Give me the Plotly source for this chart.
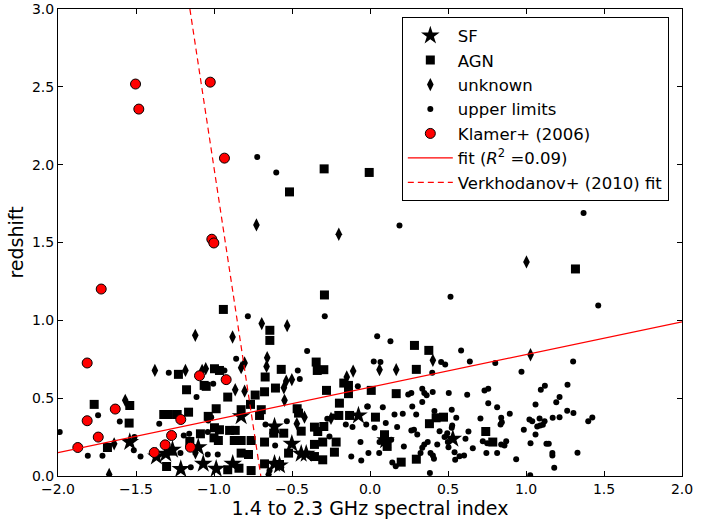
import plotly.graph_objects as go

# ---------------- data ----------------
sf_x = [-1.54, -1.369, -1.309, -1.266, -1.101, -1.213, -1.069, -0.826, -0.612, -0.501,
        -0.441, -0.88, -0.986, -0.074, 0.531, -0.58, -0.612, -0.409, 0.10]
sf_y = [0.218, 0.125, 0.143, 0.168, 0.185, 0.044, 0.078, 0.383, 0.318, 0.207,
        0.143, 0.078, 0.046, 0.389, 0.239, 0.068, 0.078, 0.143, 0.23]

agn_x = [-0.294, -0.005, -0.516, -0.292, -0.94, 1.317,
         -1.228, -1.063, -1.176, -1.54, -1.768, -1.544, -1.322, -1.292, -1.236, -1.163,
         -1.037, -1.683, -1.279, -1.155, -1.087, -1.304,
         -0.642, -0.642, -0.345, -0.997, -0.965, -0.569, -0.338, -0.296, -1.05, -0.672,
         -0.606, -0.676, -0.736, -0.912, -0.279, -0.168, -0.138, -0.138, -0.196, -0.766,
         -0.697, -0.826, -0.986, -0.467, -0.458, -0.708, -0.2, -0.131, -0.356, -0.296,
         -0.997, -0.965, -0.9, -0.864, -0.617, -0.553, -0.441, -0.335, -0.972, -0.87,
         -0.826, -0.762, -0.676, -0.356, -0.303, -0.217, -0.228, -0.522, -0.826, -0.779,
         -0.912, -0.762, -0.676, -0.58, -0.356, -0.303, -0.84, -1.0,
         0.285, 0.377, 0.297, 0.008, 0.168, 0.035, 0.424, 0.471, 0.381, 0.742, 0.787,
         0.093, 0.11, 0.297, 0.2]
agn_y = [1.973, 1.95, 1.825, 1.163, 1.07, 1.33,
         0.653, 0.582, 0.554, 0.453, 0.46, 0.34, 0.395, 0.395, 0.395, 0.41,
         0.383, 0.183, 0.16, 0.222, 0.271, 0.061,
         0.936, 0.871, 0.732, 0.689, 0.678, 0.685, 0.678, 0.683, 0.576, 0.636,
         0.565, 0.541, 0.52, 0.507, 0.55, 0.597, 0.582, 0.529, 0.468, 0.46,
         0.426, 0.426, 0.432, 0.432, 0.404, 0.389, 0.389, 0.389, 0.314, 0.318,
         0.31, 0.297, 0.293, 0.293, 0.275, 0.275, 0.288, 0.286, 0.228, 0.228,
         0.228, 0.228, 0.218, 0.203, 0.218, 0.218, 0.153, 0.147, 0.147, 0.138,
         0.04, 0.035, 0.078, 0.074, 0.125, 0.104, 0.05, 0.245,
         0.839, 0.807, 0.685, 0.55, 0.529, 0.378, 0.374, 0.378, 0.336, 0.286, 0.218,
         0.265, 0.19, 0.108, 0.089]

unk_x = [-0.728, -0.2, 1.003,
         -1.12, -1.379, -1.183, -1.076, -1.053, -1.569, -1.64, -1.119, -1.672,
         -0.694, -0.531, -0.881, -0.804, -0.659, -0.826, -0.663, -0.108, -0.537, -0.501,
         -0.552, -0.864, -0.804, -0.149, -0.548, -0.42, -0.469, -0.25, -0.65,
         0.403, 0.061, 0.168, 1.029]
unk_y = [1.613, 1.553, 1.375,
         0.904, 0.678, 0.678, 0.678, 0.689, 0.486, 0.207, 0.149, 0.01,
         0.979, 0.966, 0.893, 0.726, 0.76, 0.696, 0.704, 0.674, 0.61, 0.619,
         0.567, 0.554, 0.545, 0.636, 0.486, 0.378, 0.336, 0.37, 0.01,
         0.743, 0.683, 0.683, 0.779]

ul_x = [-0.723, -0.601, 0.189, 1.369, 0.516, 1.463,
        -1.29, -1.112, -1.743, -1.604, -1.989, -1.351, -1.194, -1.51, -1.809, -1.715,
        -1.514, -1.471, -1.215, -1.159, -1.149, -1.037,
        -0.783, -0.29, -0.403, -0.858, -0.933, -0.463, -1.005, -0.45, -0.078, -0.018,
        -1.018, -0.274, -0.238, -0.533, -0.67, -0.155, -0.112, -0.024, -1.04, -0.26,
        -0.608, -0.061, -1.04, -0.976, -0.12, -0.056, -0.569, -0.644,
        0.046, 0.131, 0.584, 0.024, 0.067, 0.456, 0.482, 0.64, 0.803, 0.971, 0.399,
        0.245, 0.265, 0.335, 0.348, 0.363, 0.402, 0.505, 0.623, 0.734, 0.758,
        -0.014, 0.082, 0.271, 0.335, 0.413, 0.524, 0.758, 0.815, 0.896,
        0.157, 0.21, 0.296, 0.553, 0.527, 0.708, 0.841, 0.845, 0.837,
        0.029, 0.101, 0.174, 0.265, 0.282, 0.303, 0.446, 0.495, 0.524, 0.478, 0.499,
        0.631, 0.723, 0.751, 0.841, 0.873, 0.862, 0.986, 0.612, 0.659,
        0.061, 0.136, 0.217, 0.348, 0.37, 0.335, 0.431, 0.503, 0.542, 0.574, 0.603,
        0.546, 0.388, 0.403, 0.41, 0.324, 0.143, 0.165, -0.01, 0.059, 0.746, 0.815,
        0.937, 0.384,
        1.302, 1.266, 1.095, 1.121, 1.215, 1.194, 1.061, 1.264, 1.304, 1.399, 1.425,
        1.022, 1.04, 1.087, 1.119, 1.171, 1.215, 1.072, 1.091, 1.108, 1.061, 1.029,
        1.131, 1.146, 1.169, 1.169, 1.181, 1.33, 1.027]
ul_y = [2.05, 1.95, 1.609, 1.69, 1.152, 1.096,
        0.664, 0.507, 0.391, 0.35, 0.282, 0.336, 0.26, 0.25, 0.13, 0.13,
        0.166, 0.125, 0.147, 0.271, 0.057, 0.357,
        1.026, 1.026, 0.803, 0.754, 0.678, 0.678, 0.593, 0.623, 0.576, 0.447,
        0.378, 0.368, 0.383, 0.352, 0.331, 0.331, 0.314, 0.331, 0.282, 0.254,
        0.196, 0.218, 0.138, 0.138, 0.125, 0.1, 0.057, 0.035,
        0.897, 0.865, 0.807, 0.736, 0.732, 0.732, 0.717, 0.736, 0.726, 0.67, 0.664,
        0.524, 0.533, 0.561, 0.533, 0.518, 0.539, 0.533, 0.522, 0.55, 0.561,
        0.447, 0.442, 0.447, 0.475, 0.417, 0.426, 0.468, 0.442, 0.4,
        0.395, 0.4, 0.395, 0.374, 0.325, 0.37, 0.374, 0.346, 0.331,
        0.31, 0.34, 0.314, 0.293, 0.297, 0.267, 0.288, 0.275, 0.31, 0.25, 0.218,
        0.286, 0.224, 0.211, 0.203, 0.224, 0.196, 0.297, 0.239, 0.179,
        0.218, 0.233, 0.19, 0.203, 0.218, 0.181, 0.203, 0.185, 0.153, 0.127, 0.132,
        0.104, 0.147, 0.132, 0.111, 0.147, 0.087, 0.063, 0.147, 0.147, 0.147, 0.147,
        0.108, 0.02,
        0.736, 0.586, 0.554, 0.58, 0.507, 0.473, 0.46, 0.419, 0.404, 0.352, 0.376,
        0.363, 0.352, 0.37, 0.352, 0.374, 0.378, 0.318, 0.325, 0.329, 0.267, 0.211,
        0.207, 0.207, 0.147, 0.132, 0.053, 0.149, 0.005]

klamer_x = [-1.503, -1.482, -1.024, -0.933, -1.014, -1.001, -1.723,
            -1.813, -1.093, -1.633, -1.813, -1.213, -1.742, -1.272, -1.873, -1.313,
            -1.151, -1.383, -0.922]
klamer_y = [2.518, 2.357, 2.53, 2.042, 1.521, 1.497, 1.201,
            0.726, 0.644, 0.43, 0.355, 0.363, 0.25, 0.26, 0.183, 0.2,
            0.185, 0.151, 0.619]

# linear fit z = fit_slope * alpha + fit_intercept
fit_slope = 0.21
fit_intercept = 0.57
fit_label = "fit (<i>R</i><sup>2</sup> =0.09)"
# Verkhodanov+ (2010) relation z = verk_slope * alpha + verk_intercept
verk_slope = -6.6
verk_intercept = -4.62

x_range = [-2.0, 2.0]
y_range = [0.0, 3.0]
tick_vals = [-2.0, -1.5, -1.0, -0.5, 0.0, 0.5, 1.0, 1.5, 2.0]
ytick_vals = [0.0, 0.5, 1.0, 1.5, 2.0, 2.5, 3.0]

# ---------------- derived line coordinates ----------------
fit_xs = x_range
fit_ys = [fit_slope * v + fit_intercept for v in fit_xs]
verk_xs = [(y_range[1] - verk_intercept) / verk_slope, (y_range[0] - verk_intercept) / verk_slope]
verk_ys = [verk_slope * v + verk_intercept for v in verk_xs]

FONT = "DejaVu Sans"

fig = go.Figure()
fig.add_trace(go.Scatter(x=sf_x, y=sf_y, mode="markers", name="SF",
                         marker=dict(symbol="star", size=14, color="black", line=dict(width=0))))
fig.add_trace(go.Scatter(x=agn_x, y=agn_y, mode="markers", name="AGN",
                         marker=dict(symbol="square", size=9, color="black", line=dict(width=0))))
fig.add_trace(go.Scatter(x=unk_x, y=unk_y, mode="markers", name="unknown",
                         marker=dict(symbol="diamond-tall", size=9.5, color="black", line=dict(width=0))))
fig.add_trace(go.Scatter(x=ul_x, y=ul_y, mode="markers", name="upper limits",
                         marker=dict(symbol="circle", size=6, color="black", line=dict(width=0))))
fig.add_trace(go.Scatter(x=klamer_x, y=klamer_y, mode="markers", name="Klamer+ (2006)",
                         marker=dict(symbol="circle", size=10, color="#ff0000",
                                     line=dict(width=1, color="black"))))
fig.add_trace(go.Scatter(x=fit_xs, y=fit_ys, mode="lines", name=fit_label,
                         line=dict(color="#ff0000", width=1.2)))
fig.add_trace(go.Scatter(x=verk_xs, y=verk_ys, mode="lines", name="Verkhodanov+ (2010) fit",
                         line=dict(color="#ff0000", width=1.2, dash="6px,4px")))

axis_common = dict(
    showline=True, linecolor="black", linewidth=1, mirror="allticks",
    ticks="inside", ticklen=5, tickcolor="black", tickwidth=1,
    showgrid=False, zeroline=False, tickformat=".1f", automargin=False,
    tickfont=dict(family=FONT, size=14, color="black"),
)

fig.update_layout(
    width=722, height=519,
    margin=dict(l=58, r=40, t=9, b=43),
    paper_bgcolor="white", plot_bgcolor="white",
    font=dict(family=FONT, color="black"),
    xaxis=dict(range=x_range, tickvals=tick_vals,
               title=dict(text="1.4 to 2.3 GHz spectral index",
                          font=dict(family=FONT, size=19, color="black"), standoff=1),
               **axis_common),
    yaxis=dict(range=y_range, tickvals=ytick_vals,
               title=dict(text="redshift", font=dict(family=FONT, size=19, color="black"),
                          standoff=3),
               **axis_common),
    legend=dict(x=0.551, y=0.982, xanchor="left", yanchor="top",
                bordercolor="black", borderwidth=1, bgcolor="white",
                font=dict(family=FONT, size=16.5, color="black"),
                itemsizing="trace", itemwidth=45, traceorder="normal"),
    showlegend=True,
)

# remove the default 8 px page margin so the figure fills the window exactly
fig.write_html("out.html",
               config={"displayModeBar": False},
               post_script="document.body.style.margin='0px';document.body.style.overflow='hidden';")
